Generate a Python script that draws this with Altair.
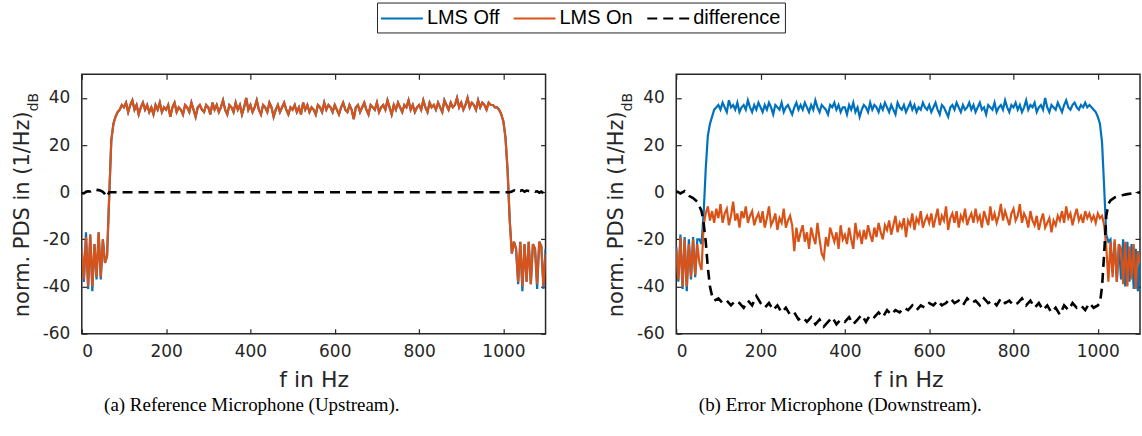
import altair as alt
import pandas as pd

# ---------------- data ----------------
freq = list(range(0, 1105, 5))  # sampling grid, Hz

a_on = [
    -24, -37, -19, -40, -18, -40, -22, -36, -17, -36, -20, -30, -27, -2, 22, 29, 32, 34, 35, 37,
    36, 38, 34, 37, 39, 35, 37, 33, 36, 38, 35, 37, 34, 36, 33, 37, 35, 38, 34, 36,
    35, 37, 32, 36, 38, 34, 36, 35, 33, 37, 36, 34, 38, 35, 32, 36, 37, 35, 34, 37,
    36, 33, 38, 35, 37, 34, 36, 39, 35, 33, 37, 36, 34, 38, 35, 37, 33, 36, 40, 35,
    37, 34, 36, 39, 35, 33, 37, 36, 34, 38, 36, 32, 35, 37, 34, 36, 38, 35, 33, 36,
    35, 37, 34, 36, 33, 38, 35, 37, 34, 36, 35, 33, 37, 36, 34, 38, 35, 37, 36, 34,
    37, 35, 33, 36, 38, 35, 34, 37, 35, 31, 36, 37, 34, 36, 38, 35, 33, 37, 36, 35,
    38, 34, 36, 37, 35, 39, 36, 33, 37, 35, 38, 36, 34, 37, 36, 39, 35, 37, 34, 36,
    37, 35, 39, 36, 34, 38, 36, 37, 35, 38, 36, 34, 39, 37, 35, 38, 36, 37, 40, 36,
    38, 35, 37, 40, 36, 38, 37, 35, 39, 36, 38, 37, 35, 38, 37, 37, 36, 36, 35, 33,
    30, 23, 9, -12, -26, -21, -24, -38, -21, -40, -22, -38, -21, -39, -22, -24, -39, -21, -23, -40,
    -26,
]
a_off = [
    -24, -38, -17, -41, -18, -42, -22, -37, -17, -37, -20, -30, -27, -2, 22, 29, 32, 34, 35, 37,
    36, 38, 34, 37, 39, 35, 37, 33, 36, 38, 35, 37, 34, 36, 33, 37, 35, 38, 34, 36,
    35, 37, 32, 36, 38, 34, 36, 35, 33, 37, 36, 34, 38, 35, 32, 36, 37, 35, 34, 37,
    36, 33, 38, 35, 37, 34, 36, 39, 35, 33, 37, 36, 34, 38, 35, 37, 33, 36, 40, 35,
    37, 34, 36, 39, 35, 33, 37, 36, 34, 38, 36, 32, 35, 37, 34, 36, 38, 35, 33, 36,
    35, 37, 34, 36, 33, 38, 35, 37, 34, 36, 35, 33, 37, 36, 34, 38, 35, 37, 36, 34,
    37, 35, 33, 36, 38, 35, 34, 37, 35, 31, 36, 37, 34, 36, 38, 35, 33, 37, 36, 35,
    38, 34, 36, 37, 35, 39, 36, 33, 37, 35, 38, 36, 34, 37, 36, 39, 35, 37, 34, 36,
    37, 35, 39, 36, 34, 38, 36, 37, 35, 38, 36, 34, 39, 37, 35, 38, 36, 37, 40, 36,
    38, 35, 37, 40, 36, 38, 37, 35, 39, 36, 38, 37, 35, 38, 37, 37, 36, 36, 35, 33,
    30, 23, 9, -12, -26, -21, -24, -39, -21, -42, -22, -38, -21, -39, -22, -24, -41, -21, -23, -41,
    -24,
]
a_diff_f = [0, 5, 10, 15, 20, 25, 30, 35, 40, 45, 50, 55, 60, 65, 1010, 1015, 1020, 1025,
            1030, 1035, 1040, 1045, 1050, 1055, 1060, 1065, 1070, 1075, 1080, 1085, 1090, 1095, 1100]
a_diff = [-0.3, -0.5, 0.2, 0.4, 0.3, 0.8, 1.2, 1.0, 0.9, 0.6, 0.2, -0.8, -2.0, 0.0, 0.0, 0.0, 0.3, 0.8,
          0.4, 1.0, 0.6, 0.9, 0.2, 0.7, 0.5, 0.3, 0.6, 0.2, 0.4, -0.2, 0.3, -0.5, -0.3]

b_off = [
    -23, -38, -18, -41, -19, -42, -20, -37, -19, -36, -20, -20, -22, -9, 10, 24, 29, 32, 35, 36,
    37, 35, 38, 36, 34, 39, 36, 37, 35, 38, 34, 36, 37, 35, 39, 36, 34, 37, 35, 38,
    36, 34, 37, 35, 38, 36, 33, 37, 36, 35, 38, 34, 36, 37, 35, 33, 36, 38, 35, 37,
    35, 38, 36, 34, 37, 35, 39, 36, 34, 37, 36, 35, 33, 37, 36, 38, 35, 37, 34, 36,
    36, 33, 37, 35, 38, 34, 36, 32, 35, 37, 36, 34, 38, 35, 37, 36, 34, 37, 35, 38,
    36, 34, 37, 35, 33, 38, 36, 35, 37, 34, 36, 38, 35, 37, 34, 36, 35, 38, 36, 35,
    37, 34, 36, 38, 35, 33, 37, 36, 34, 32, 36, 37, 35, 38, 36, 34, 37, 35, 36, 38,
    35, 37, 34, 36, 38, 35, 36, 33, 37, 36, 35, 38, 34, 36, 37, 35, 39, 36, 34, 37,
    36, 38, 35, 37, 34, 36, 39, 35, 37, 36, 38, 34, 36, 37, 35, 40, 36, 34, 37, 36,
    35, 38, 36, 34, 37, 39, 36, 35, 37, 38, 36, 35, 37, 36, 38, 36, 37, 36, 35, 34,
    32, 29, 21, 2, -18, -21, -20, -34, -21, -38, -22, -37, -20, -40, -21, -38, -22, -41, -24, -42,
    -25,
]
b_on = [
    -24, -37, -19, -40, -20, -40, -22, -36, -20, -35, -22, -30, -33, -14, -9, -6, -12, -8, -13, -7,
    -11, -5, -13, -9, -7, -14, -10, -4, -12, -9, -15, -8, -11, -6, -13, -10, -8, -14, -11, -9,
    -13, -8, -15, -11, -6, -14, -12, -9, -16, -11, -13, -7, -15, -12, -10, -14, -25, -15, -21, -17,
    -14, -21, -17, -24, -15, -19, -22, -13, -20, -26, -28, -19, -23, -15, -18, -21, -17, -24, -14, -20,
    -18, -22, -15, -20, -24, -13, -19, -17, -22, -16, -20, -14, -18, -21, -15, -19, -13, -17, -20, -14,
    -16, -12, -18, -14, -10, -17, -13, -15, -11, -19, -12, -14, -9, -16, -11, -13, -8, -15, -12, -10,
    -13, -9, -15, -11, -7, -14, -10, -12, -6, -16, -11, -9, -13, -8, -15, -10, -12, -7, -14, -11,
    -9, -13, -7, -12, -10, -15, -8, -11, -14, -6, -12, -9, -13, -10, -5, -12, -8, -11, -14, -9,
    -7, -12, -10, -5, -13, -9, -11, -15, -8, -12, -14, -10, -16, -12, -9, -15, -13, -11, -17, -12,
    -14, -10, -12, -8, -13, -6, -11, -9, -14, -10, -7, -12, -10, -13, -8, -11, -9, -12, -10, -13,
    -9, -11, -10, -14, -23, -38, -21, -36, -20, -38, -22, -24, -39, -21, -40, -23, -37, -22, -41, -25,
    -30,
]
b_diff_f = [0, 10, 20, 30, 40, 50, 55, 60, 65, 70, 75, 80, 85, 90,
            100, 110, 120, 130, 140, 150, 160, 170, 180, 190, 200,
            210, 220, 230, 240, 250, 260, 270, 280, 290, 300,
            310, 320, 330, 340, 350, 360, 370, 380, 390, 400,
            410, 420, 430, 440, 450, 460, 470, 480, 490, 500,
            510, 520, 530, 540, 550, 560, 570, 580, 590, 600,
            610, 620, 630, 640, 650, 660, 670, 680, 690, 700,
            710, 720, 730, 740, 750, 760, 770, 780, 790, 800,
            810, 820, 830, 840, 850, 860, 870, 880, 890, 900,
            910, 920, 930, 940, 950, 960, 970, 980, 990, 1000,
            1005, 1010, 1015, 1020, 1025, 1030, 1040, 1050, 1060, 1070, 1080, 1090, 1100]
b_diff = [0.5, -0.5, 0.5, -1.5, -2.5, -4, -6, -8, -13, -21, -32, -40, -44, -46,
          -45, -47, -46, -48, -46, -47, -49, -46, -48, -44, -47,
          -49, -47, -50, -48, -51, -49, -52, -51, -54, -53,
          -55, -53, -56, -54, -57, -55, -53, -56, -54, -55,
          -53, -56, -54, -52, -55, -52, -53, -51, -53, -50,
          -52, -50, -51, -49, -50, -48, -50, -48, -49, -47,
          -48, -46, -48, -47, -45, -47, -46, -48, -45, -47,
          -46, -48, -45, -47, -46, -48, -45, -47, -46, -48,
          -47, -45, -48, -46, -49, -47, -50, -48, -51, -49,
          -52, -48, -50, -47, -49, -48, -50, -47, -49, -48,
          -47, -40, -26, -10, -5, -3.5, -2.2, -1.5, -1.2, -0.8, -0.5, -0.3, 0]

SERIES = ["LMS Off", "LMS On", "difference"]
COLORS = ["#0072BD", "#D95319", "#000000"]
DASHES = [[1, 0], [1, 0], [10, 6]]
x_ticks = [0, 200, 400, 600, 800, 1000]
y_ticks = [-60, -40, -20, 0, 20, 40]
y_title = ["norm. PDS in (1/Hz)"]
y_sub = ["dB"]
captions = ["(a) Reference Microphone (Upstream).", "(b) Error Microphone (Downstream)."]

FONT = "DejaVu Sans"
INK = "#262626"
W, H = 465, 260
PLAIN = "'' + datum.value"


def frame(f, v, name):
    return pd.DataFrame({"f": f, "v": v, "series": name})


legend = alt.Legend(
    title=None, orient="none", legendX=296, legendY=-72, direction="horizontal",
    symbolType="M-2,0L2,0", symbolSize=441, symbolStrokeWidth=2.2, symbolOffset=9,
    labelFont="Liberation Sans", labelFontSize=20, labelColor="#000000", labelOffset=13,
    columnPadding=9, padding=4, strokeColor=INK, fillColor="white", labelLimit=300,
    gridAlign="none",
)
xs = alt.Scale(domain=[0, 1100], nice=False, zero=False)
ys = alt.Scale(domain=[-60, 50], nice=False, zero=False)
cs = alt.Scale(domain=SERIES, range=COLORS)
ds = alt.Scale(domain=SERIES, range=DASHES)


def lines(df, width, main):
    xa = alt.Axis(values=x_ticks, title="f in Hz", orient="bottom", offset=-5, tickSize=5,
                  domain=False, grid=False, labelPadding=10, titlePadding=10,
                  labelExpr=PLAIN) if main else None
    ya = alt.Axis(values=y_ticks, title=None, orient="left", offset=-5, tickSize=5,
                  domain=False, grid=False, labelPadding=12, labelExpr=PLAIN) if main else None
    return alt.Chart(df).mark_line(strokeWidth=width, clip=True).encode(
        x=alt.X("f:Q", scale=xs, axis=xa),
        y=alt.Y("v:Q", scale=ys, axis=ya),
        color=alt.Color("series:N", scale=cs, legend=legend),
        strokeDash=alt.StrokeDash("series:N", scale=ds, legend=legend),
    )


def mirror(df):
    return alt.Chart(df).mark_line(opacity=0).encode(
        x=alt.X("f:Q", scale=xs, axis=alt.Axis(values=x_ticks, orient="top", offset=-5, tickSize=5,
                                                labels=False, domain=False, grid=False, title=None)),
        y=alt.Y("v:Q", scale=ys, axis=alt.Axis(values=y_ticks, orient="right", offset=-5, tickSize=5,
                                                labels=False, domain=False, grid=False, title=None)),
    )


def ytitle():
    t1 = alt.Chart(pd.DataFrame({"t": y_title})).mark_text(
        angle=270, align="right", baseline="alphabetic", font=FONT, fontSize=21, color=INK
    ).encode(x=alt.value(-53), y=alt.value(37), text="t:N")
    t2 = alt.Chart(pd.DataFrame({"t": y_sub})).mark_text(
        angle=270, align="left", baseline="alphabetic", font=FONT, fontSize=14, color=INK
    ).encode(x=alt.value(-44), y=alt.value(37), text="t:N")
    return t1 + t2


def panel(off, on, dff, dfv, caption, dx):
    d_off = frame(freq, off, "LMS Off")
    d_on = frame(freq, on, "LMS On")
    d_diff = frame(dff, dfv, "difference")
    return alt.layer(
        lines(d_off, 2.2, True), lines(d_on, 2.2, False), lines(d_diff, 2.6, False),
        mirror(d_off), ytitle(),
    ).properties(
        width=W, height=H,
        title=alt.TitleParams(caption, orient="bottom", anchor="middle", font="Liberation Serif",
                              fontSize=19, fontWeight="normal", color="#000000", offset=6, dx=dx),
    )


chart = alt.hconcat(
    panel(a_off, a_on, a_diff_f, a_diff, captions[0], -62),
    panel(b_off, b_on, b_diff_f, b_diff, captions[1], -68),
    spacing=58,
).resolve_scale(color="shared", strokeDash="shared").properties(
    padding={"left": 11, "top": 1, "right": 0, "bottom": 0},
    background="white",
).configure_view(stroke=INK, strokeWidth=1.5).configure_axis(
    labelFont=FONT, labelFontSize=17, labelColor=INK, tickColor=INK, tickWidth=1.2,
    titleFont=FONT, titleFontSize=22, titleColor=INK, titleFontWeight="normal",
)

chart.save("out.html", embed_options={"renderer": "svg", "actions": False})
